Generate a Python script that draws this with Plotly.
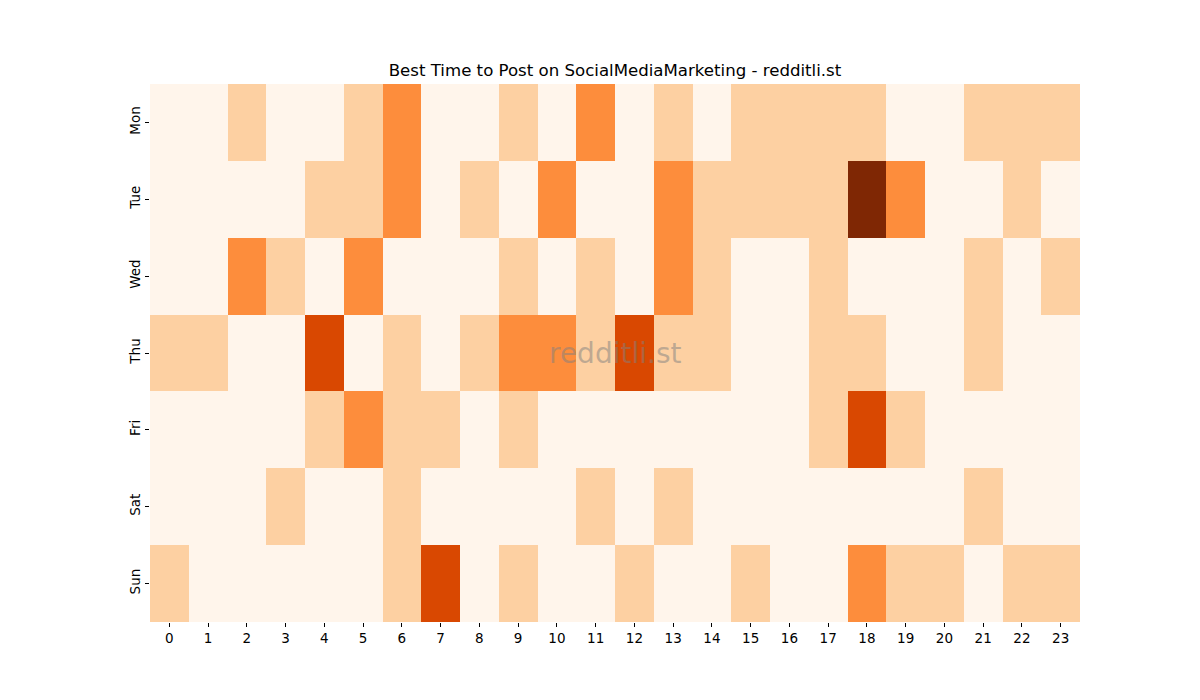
import plotly.graph_objects as go

days = ["Mon", "Tue", "Wed", "Thu", "Fri", "Sat", "Sun"]
hours = list(range(24))

mon = [0, 0, 1, 0, 0, 1, 2, 0, 0, 1, 0, 2, 0, 1, 0, 1, 1, 1, 1, 0, 0, 1, 1, 1]
tue = [0, 0, 0, 0, 1, 1, 2, 0, 1, 0, 2, 0, 0, 2, 1, 1, 1, 1, 4, 2, 0, 0, 1, 0]
wed = [0, 0, 2, 1, 0, 2, 0, 0, 0, 1, 0, 1, 0, 2, 1, 0, 0, 1, 0, 0, 0, 1, 0, 1]
thu = [1, 1, 0, 0, 3, 0, 1, 0, 1, 2, 2, 1, 3, 1, 1, 0, 0, 1, 1, 0, 0, 1, 0, 0]
fri = [0, 0, 0, 0, 1, 2, 1, 1, 0, 1, 0, 0, 0, 0, 0, 0, 0, 1, 3, 1, 0, 0, 0, 0]
sat = [0, 0, 0, 1, 0, 0, 1, 0, 0, 0, 0, 1, 0, 1, 0, 0, 0, 0, 0, 0, 0, 1, 0, 0]
sun = [1, 0, 0, 0, 0, 0, 1, 3, 0, 1, 0, 0, 1, 0, 0, 1, 0, 0, 2, 1, 1, 0, 1, 1]

z = [mon, tue, wed, thu, fri, sat, sun]

oranges = [
    [0.0, "#fff5eb"], [0.125, "#fee6ce"], [0.25, "#fdd0a2"], [0.375, "#fdae6b"],
    [0.5, "#fd8d3c"], [0.625, "#f16913"], [0.75, "#d94801"], [0.875, "#a63603"],
    [1.0, "#7f2704"],
]

fig = go.Figure(go.Heatmap(
    z=z, x=hours, y=days, colorscale=oranges, zmin=0, zmax=4,
    showscale=False, xgap=0, ygap=0,
))

font = "DejaVu Sans"
fig.update_layout(
    width=1200, height=700,
    margin=dict(l=142, r=128, t=76, b=86),
    plot_bgcolor="white", paper_bgcolor="white",
    font=dict(family=font, size=13.5, color="black"),
    title=dict(text="Best Time to Post on SocialMediaMarketing - redditli.st",
               x=607 / 1200, xanchor="center", y=1 - 62 / 700, yanchor="middle",
               font=dict(size=16.6, family=font, color="black")),
    showlegend=False,
)
fig.update_xaxes(
    tickmode="array", tickvals=hours, ticktext=[str(h) for h in hours],
    ticks="outside", ticklen=4, tickcolor="black", tickwidth=1,
    showgrid=False, zeroline=False, showline=False,
    range=[-0.5, 23.5], tickfont=dict(size=13.5),
)
fig.update_yaxes(
    tickmode="array", tickvals=days, ticktext=days,
    ticks="outside", ticklen=4, tickcolor="black", tickwidth=1,
    showgrid=False, zeroline=False, showline=False,
    autorange="reversed", tickangle=-90, tickfont=dict(size=13.5),
)
fig.add_annotation(
    text="redditli.st", x=0.5, y=0.5, xref="paper", yref="paper",
    showarrow=False, font=dict(size=28, family=font, color="rgba(128,128,128,0.5)"),
)

fig.write_html("out.html")
